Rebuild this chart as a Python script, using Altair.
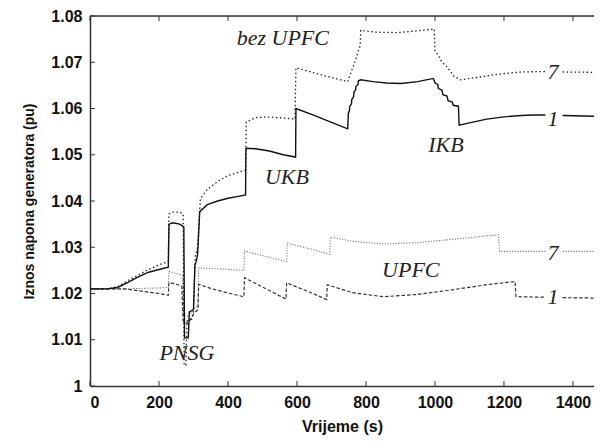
import altair as alt
import pandas as pd

# ---- data ----
# bez UPFC, generator 1 (solid)
a_t = [0, 50, 80, 110, 140, 170, 200, 227, 229, 240, 260, 272, 274, 285, 288, 300, 304, 308, 312, 318,
       340, 370, 400, 430, 451, 452, 480, 520, 560, 596, 597, 650, 700, 747,
       749, 752, 753, 758, 759, 764, 765, 770, 771, 777, 778, 785, 820, 860, 900, 950, 995,
       997, 1000, 1008, 1010, 1020, 1023, 1035, 1038, 1050, 1053, 1068, 1070,
       1100, 1150, 1200, 1250, 1285, 1320, 1370, 1484]
a_v = [1.0210, 1.0210, 1.0213, 1.0224, 1.0236, 1.0246, 1.0252, 1.0257, 1.0350, 1.0353, 1.0350, 1.0344, 1.0104, 1.0104, 1.0160, 1.0165, 1.0260, 1.0270, 1.0285, 1.0377,
       1.0392, 1.0400, 1.0406, 1.0410, 1.0413, 1.0514, 1.0513, 1.0508, 1.0500, 1.0495, 1.0600, 1.0585, 1.0570, 1.0556,
       1.0590, 1.0595, 1.0605, 1.0610, 1.0620, 1.0625, 1.0635, 1.0640, 1.0648, 1.0652, 1.0660, 1.0662, 1.0658, 1.0655, 1.0654, 1.0658, 1.0665,
       1.0662, 1.0655, 1.0652, 1.0643, 1.0640, 1.0630, 1.0627, 1.0617, 1.0614, 1.0607, 1.0605, 1.0564,
       1.0569, 1.0577, 1.0582, 1.0585, 1.0586, 1.0586, 1.0585, 1.0583]
a_seg = [0 if t <= 1320 else 1 for t in a_t]

# bez UPFC, generator 7 (dotted)
b_t = [0, 50, 80, 110, 140, 170, 200, 227, 229, 240, 260, 270, 273, 278, 281, 295, 300, 305, 312, 320,
       340, 370, 400, 430, 451, 453, 480, 512, 550, 594, 597, 650, 700, 747,
       760, 770, 778, 783, 785, 830, 890, 950, 998, 1000, 1010, 1020, 1035, 1045, 1053, 1073,
       1120, 1180, 1250, 1320, 1370, 1484]
b_v = [1.0210, 1.0210, 1.0215, 1.0228, 1.0240, 1.0252, 1.0262, 1.0269, 1.0372, 1.0376, 1.0376, 1.0372, 1.0045, 1.0045, 1.0140, 1.0145, 1.0160, 1.0280, 1.0300, 1.0405,
       1.0425, 1.0442, 1.0455, 1.0462, 1.0467, 1.0571, 1.0580, 1.0582, 1.0580, 1.0577, 1.0688, 1.0677, 1.0667, 1.0658,
       1.0685, 1.0705, 1.0725, 1.0735, 1.0769, 1.0765, 1.0764, 1.0768, 1.0772, 1.0725, 1.0715, 1.0700, 1.0690, 1.0680, 1.0671, 1.0662,
       1.0667, 1.0674, 1.0679, 1.0680, 1.0679, 1.0678]
b_seg = [0 if t <= 1320 else 1 for t in b_t]

# UPFC, generator 7 (grey dotted)
c_t = [0, 100, 150, 200, 227, 229, 250, 268, 271, 285, 295, 305, 313, 315, 350, 400, 446, 448, 500, 570, 572,
       630, 695, 697, 760, 850, 950, 1050, 1184, 1187, 1250, 1320, 1370, 1484]
c_v = [1.0210, 1.0210, 1.0211, 1.0212, 1.0213, 1.0248, 1.0243, 1.0239, 1.0155, 1.0150, 1.0160, 1.0170, 1.0172, 1.0255, 1.0254, 1.0252, 1.0250, 1.0292, 1.0282, 1.0269, 1.0309,
       1.0298, 1.0285, 1.0322, 1.0313, 1.0307, 1.0310, 1.0317, 1.0327, 1.0291, 1.0291, 1.0291, 1.0291, 1.0291]
c_seg = [0 if t <= 1320 else 1 for t in c_t]

# UPFC, generator 1 (dashed)
d_t = [0, 100, 150, 200, 227, 229, 250, 266, 270, 285, 295, 305, 313, 315, 350, 400, 446, 448, 500, 568, 570,
       630, 686, 688, 760, 850, 950, 1050, 1150, 1232, 1235, 1320, 1370, 1484]
d_v = [1.0210, 1.0210, 1.0205, 1.0200, 1.0196, 1.0224, 1.0220, 1.0216, 1.0140, 1.0135, 1.0150, 1.0160, 1.0165, 1.0220, 1.0211, 1.0201, 1.0193, 1.0234, 1.0214, 1.0188, 1.0223,
       1.0205, 1.0187, 1.0219, 1.0202, 1.0193, 1.0198, 1.0208, 1.0219, 1.0226, 1.0193, 1.0192, 1.0191, 1.0190]
d_seg = [0 if t <= 1320 else 1 for t in d_t]

# annotations
ann_text = ["bez  UPFC", "UKB", "IKB", "7", "1", "UPFC", "7", "1", "PNSG"]
ann_t = [559, 571, 1032, 1342, 1342, 930, 1342, 1342, 281]
ann_v = [1.0752, 1.0452, 1.0521, 1.0678, 1.0577, 1.0251, 1.0288, 1.0193, 1.0071]

x_ticks = [0, 200, 400, 600, 800, 1000, 1200, 1400]
y_ticks = [1.00, 1.01, 1.02, 1.03, 1.04, 1.05, 1.06, 1.07, 1.08]

W, H = 504, 370
XMAX = 1461
SANS = "Liberation Sans"
SERIF = "Liberation Serif"

xs = alt.Scale(domain=[0, XMAX], nice=False, zero=False)
ys = alt.Scale(domain=[1.0, 1.08], nice=False, zero=False)

def line_layer(ts, vs, segs, color, dash, width):
    df = pd.DataFrame({"t": ts, "v": vs, "seg": segs})
    props = dict(color=color, strokeWidth=width, clip=True)
    if dash:
        props["strokeDash"] = dash
    return alt.Chart(df).mark_line(**props).encode(
        x=alt.X("t:Q", scale=xs,
                axis=alt.Axis(values=x_ticks, format="d", title="Vrijeme (s)", ticks=False, grid=False,
                              labelFont=SANS, labelFontWeight="bold", labelFontSize=16,
                              labelColor="#111", labelPadding=8,
                              titleFont=SANS, titleFontWeight="bold", titleFontSize=16,
                              titleColor="#111", titlePadding=8,
                              domainColor="#333", domainWidth=1.5)),
        y=alt.Y("v:Q", scale=ys,
                axis=alt.Axis(values=y_ticks, format="~g", title="Iznos napona generatora (pu)",
                              ticks=False, grid=False,
                              labelFont=SANS, labelFontWeight="bold", labelFontSize=16,
                              labelColor="#111", labelPadding=8,
                              titleFont=SANS, titleFontWeight="bold", titleFontSize=14,
                              titleColor="#111", titlePadding=14,
                              domainColor="#333", domainWidth=1.5)),
        detail="seg:N",
        order="t:Q",
    )

la = line_layer(a_t, a_v, a_seg, "#111111", None, 1.4)
lb = line_layer(b_t, b_v, b_seg, "#222222", [1.5, 2.5], 1.3)
lc = line_layer(c_t, c_v, c_seg, "#777777", [1.2, 1.5], 1.1)
ld = line_layer(d_t, d_v, d_seg, "#333333", [3.5, 2], 1.2)

# frame: top spine and inward ticks
top_spine = alt.Chart(pd.DataFrame({"k": [0]})).mark_rule(color="#333", strokeWidth=1.5).encode(
    x=alt.value(0), x2=alt.value(W), y=alt.value(0))

xt = pd.DataFrame({"xt": x_ticks})
yt = pd.DataFrame({"yt": y_ticks})
xt_bottom = alt.Chart(xt).mark_rule(color="#333", strokeWidth=1).encode(
    x=alt.X("xt:Q", scale=xs), y=alt.value(H), y2=alt.value(H - 5))
xt_top = alt.Chart(xt).mark_rule(color="#333", strokeWidth=1).encode(
    x=alt.X("xt:Q", scale=xs), y=alt.value(0), y2=alt.value(5))
yt_left = alt.Chart(yt).mark_rule(color="#333", strokeWidth=1).encode(
    y=alt.Y("yt:Q", scale=ys), x=alt.value(0), x2=alt.value(5))

ann = alt.Chart(pd.DataFrame({"txt": ann_text, "t": ann_t, "v": ann_v})).mark_text(
    font=SERIF, fontStyle="italic", fontSize=22, color="#222", align="center", baseline="middle"
).encode(x=alt.X("t:Q", scale=xs), y=alt.Y("v:Q", scale=ys), text="txt:N")

chart = alt.layer(lc, ld, lb, la, top_spine, xt_bottom, xt_top, yt_left, ann).properties(
    width=W, height=H,
    autosize=alt.AutoSizeParams(type="none"),
    padding={"left": 82, "top": 8, "right": 0, "bottom": 49},
).configure_view(stroke=None).configure(background="white")

chart.save("out.html", embed_options={"renderer": "svg", "actions": False})
